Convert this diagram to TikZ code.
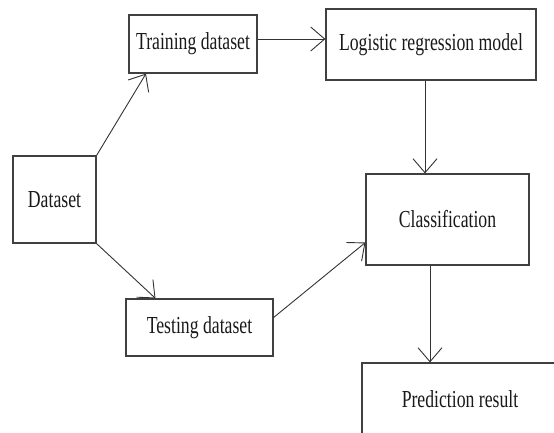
\documentclass[tikz,border=0pt]{standalone}
\usepackage{fontspec}
\setmainfont{Liberation Serif}
\usepackage{graphicx}
\usetikzlibrary{shapes,arrows,arrows.meta}
\usetikzlibrary{calc}
\tikzstyle{flowbox} = [rectangle, draw=black!75, line width=1.2pt, inner sep=0pt,
    text=black!90, font=\fontsize{17.7}{20}\selectfont]
\tikzstyle{line} = [draw=black!80, line width=0.9pt, -{Straight Barb[length=14pt,width=24pt]}]
\newcommand{\tall}[1]{\scalebox{1}[1.38]{#1}}

\begin{document}
\begin{tikzpicture}[x=1pt,y=-1pt]
    \useasboundingbox (0,0) rectangle (554,432);
    \node [flowbox, minimum width=83pt, minimum height=87pt] (dataset) at (54.5,199.5) {\tall{Dataset}};
    \node [flowbox, minimum width=128pt, minimum height=58pt] (training) at (193,44) {\tall{Training dataset}};
    \node [flowbox, minimum width=147pt, minimum height=57pt] (testing) at (199.5,327.5) {\tall{Testing dataset}};
    \node [flowbox, minimum width=210pt, minimum height=71pt] (logistic) at (431,44.5) {\tall{Logistic regression model}};
    \node [flowbox, minimum width=163pt, minimum height=91pt] (classif) at (447.5,219.5) {\tall{Classification}};
    \node [flowbox, minimum width=196pt, minimum height=72pt] (predict) at (460,399) {\tall{Prediction result}};
    % Draw edges
    \path[line] (dataset.north east) -- ([xshift=-47pt]training.south);
    \path[line] (dataset.south east) -- ([xshift=-44pt]testing.north);
    \path[line] ([yshift=5pt]training.east) -- ([yshift=5pt]training.east -| logistic.west);
    \path[line] ([xshift=-6pt]logistic.south) -- ([xshift=-6pt]logistic.south |- classif.north);
    \path[line] ([yshift=10pt]testing.east) -- ([yshift=-23pt]classif.west);
    \path[line] ([xshift=-17.5pt]classif.south) -- ([xshift=-17.5pt]classif.south |- predict.north);
\end{tikzpicture}
\end{document}
